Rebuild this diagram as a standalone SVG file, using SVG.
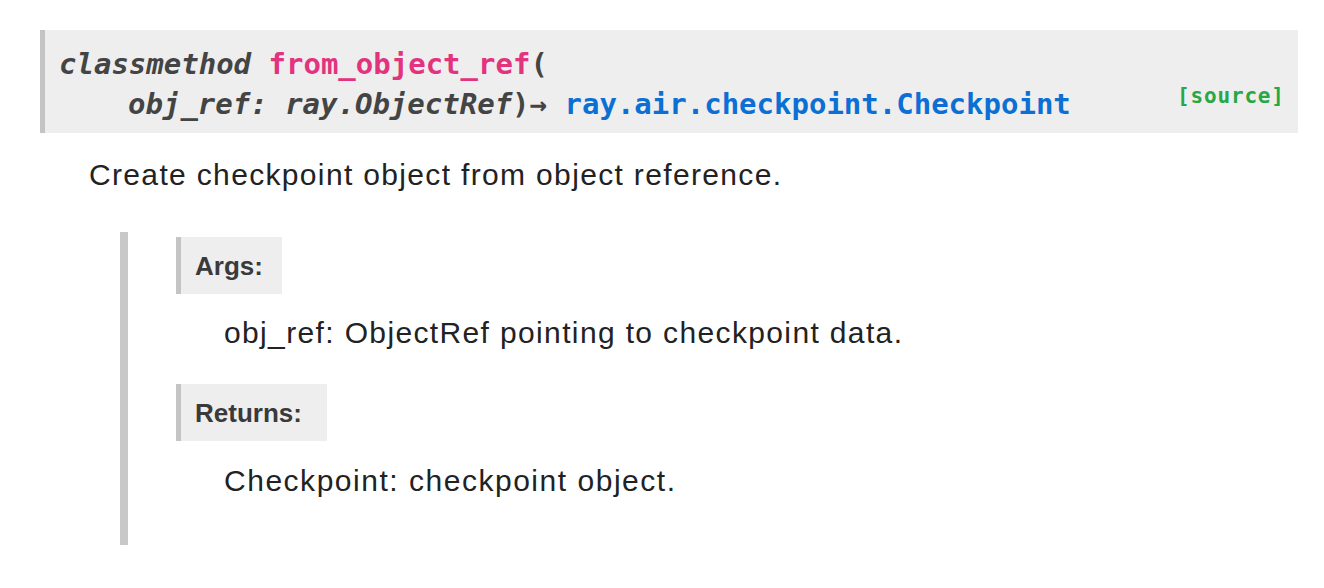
<svg xmlns="http://www.w3.org/2000/svg" width="1324" height="588" viewBox="0 0 1324 588">
<style>
.m{font-family:"DejaVu Sans Mono",monospace;font-weight:bold;font-size:29px}
.s{font-family:"Liberation Sans",Arial,sans-serif;font-size:30px;fill:#222}
.h{font-family:"Liberation Sans",Arial,sans-serif;font-size:26px;font-weight:bold;fill:#3a3a3a}
</style>
<rect width="1324" height="588" fill="#fff"/>
<rect x="40" y="30" width="1258" height="103" fill="#eeeeee"/>
<rect x="40" y="30" width="5" height="103" fill="#c4c4c4"/>
<text class="m" x="59" y="74"><tspan fill="#444" font-style="italic">classmethod </tspan><tspan fill="#e2337f">from_object_ref</tspan><tspan fill="#444">(</tspan></text>
<text class="m" x="128" y="114"><tspan fill="#444" font-style="italic">obj_ref: ray.ObjectRef</tspan><tspan fill="#444">)→ </tspan><tspan fill="#0b6fd3">ray.air.checkpoint.Checkpoint</tspan></text>
<text x="1177" y="103" textLength="107" font-family="DejaVu Sans Mono,monospace" font-weight="bold" font-size="21" fill="#28a745">[source]</text>
<text class="s" x="89" y="185" textLength="692">Create checkpoint object from object reference.</text>
<rect x="120" y="232" width="8" height="313" fill="#c8c8c8"/>
<rect x="176" y="237" width="106" height="57" fill="#eeeeee"/>
<rect x="176" y="237" width="5" height="57" fill="#c4c4c4"/>
<text class="h" x="195" y="275">Args:</text>
<text class="s" x="224" y="343" textLength="678">obj_ref: ObjectRef pointing to checkpoint data.</text>
<rect x="176" y="384" width="151" height="57" fill="#eeeeee"/>
<rect x="176" y="384" width="5" height="57" fill="#c4c4c4"/>
<text class="h" x="195" y="422">Returns:</text>
<text class="s" x="224" y="491" textLength="451">Checkpoint: checkpoint object.</text>
</svg>
